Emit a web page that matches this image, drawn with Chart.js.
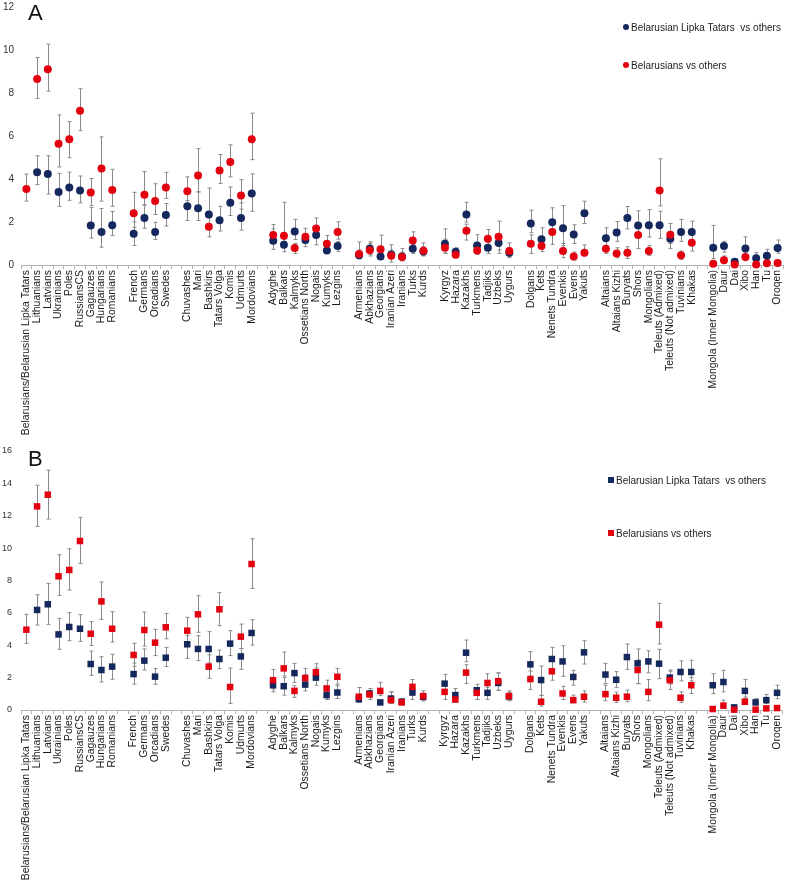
<!DOCTYPE html>
<html>
<head>
<meta charset="utf-8">
<script src="https://cdn.jsdelivr.net/npm/chart.js@4.4.1/dist/chart.umd.min.js"></script>
<style>
  body { margin: 0; background: #fff; font-family: "Liberation Sans", Arial, sans-serif; }
  #wrap { position: relative; width: 787px; height: 884px; }
  canvas { position: absolute; left: 0; }
  .panel { position: absolute; font-size: 22px; color: #111; line-height: 24px; }
  .leg { position: absolute; font-size: 10px; color: #222; white-space: pre; line-height: 12px; }
  .mk { display: inline-block; width: 6px; height: 6px; margin-right: 2px; vertical-align: 1px; }
</style>
</head>
<body>
<div id="wrap">
  <canvas id="chartA" width="787" height="440" style="top:0"></canvas>
  <canvas id="chartB" width="787" height="444" style="top:440px"></canvas>
  <div class="panel" style="left:28px;top:1px">A</div>
  <div class="panel" style="left:28px;top:447px">B</div>
  <div class="leg" style="left:623px;top:22px"><span class="mk" style="background:#15285e;border-radius:50%"></span>Belarusian Lipka Tatars  vs others</div>
  <div class="leg" style="left:623px;top:60px"><span class="mk" style="background:#e3000f;border-radius:50%"></span>Belarusians vs others</div>
  <div class="leg" style="left:608px;top:475px"><span class="mk" style="background:#15285e"></span>Belarusian Lipka Tatars  vs others</div>
  <div class="leg" style="left:608px;top:528px"><span class="mk" style="background:#e3000f"></span>Belarusians vs others</div>
</div>
<script>
// populations, "" = gap between regional groups
const populations = [
  "Belarusians/Belarusian Lipka Tatars", "Lithuanians", "Latvians", "Ukrainians", "Poles", "RussiansCS", "Gagauzes", "Hungarians", "Romanians", "",
  "French", "Germans", "Orcadians", "Swedes", "",
  "Chuvashes", "Mari", "Bashkirs", "Tatars Volga", "Komis", "Udmurts", "Mordovians", "",
  "Adyghe", "Balkars", "Kalmyks", "Ossetians North", "Nogais", "Kumyks", "Lezgins", "",
  "Armenians", "Abkhazians", "Georgians", "Iranian Azeri", "Iranians", "Turks", "Kurds", "",
  "Kyrgyz", "Hazara", "Kazakhs", "Turkmens", "Tadjiks", "Uzbeks", "Uygurs", "",
  "Dolgans", "Kets", "Nenets Tundra", "Evenkis", "Evens", "Yakuts", "",
  "Altaians", "Altaians Kizhi", "Buryats", "Shors", "Mongolians", "Teleuts (Admixed)", "Teleuts (Not admixed)", "Tuvinians", "Khakas", "",
  "Mongola (Inner Mongolia)", "Daur", "Dai", "Xibo", "Han", "Tu", "Oroqen"
];

// panel A
const tatarsA = [null, 4.31, 4.23, 3.40, 3.61, 3.47, 1.84, 1.53, 1.85, null,
  1.45, 2.19, 1.54, 2.33, null,
  2.73, 2.64, 2.35, 2.08, 2.89, 2.19, 3.32, null,
  1.13, 0.94, 1.56, 1.16, 1.39, 0.68, 0.88, null,
  0.45, 0.77, 0.39, 0.49, 0.39, 0.76, 0.63, null,
  0.99, 0.62, 2.35, 0.91, 0.80, 1.02, 0.57, null,
  1.93, 1.20, 1.99, 1.71, 1.42, 2.41, null,
  1.25, 1.51, 2.19, 1.84, 1.85, 1.85, 1.22, 1.54, 1.54, null,
  0.80, 0.88, 0.15, 0.77, 0.31, 0.43, 0.79];
const tatarsAHi = [null, 5.08, 5.08, 4.26, 4.32, 4.14, 2.67, 2.63, 2.49, null,
  2.0, 2.78, 1.99, 2.86, null,
  3.35, 3.4, 3.58, 2.73, 3.63, 2.89, 4.24, null,
  1.68, 1.2, 2.12, 1.4, 1.75, 0.9, 1.1, null,
  0.7, 1.08, 0.6, 0.7, 0.6, 0.95, 0.85, null,
  1.68, 0.8, 2.92, 1.41, 1.05, 1.3, 0.8, null,
  2.55, 1.73, 2.66, 2.76, 1.87, 2.97, null,
  1.73, 2.02, 2.72, 2.52, 2.58, 2.5, 1.55, 2.12, 2.04, null,
  1.84, 1.1, 0.3, 1.31, 0.57, 0.73, 1.16];
const tatarsALo = [null, 3.74, 3.3, 2.73, 3.01, 2.89, 1.25, 0.83, 1.37, null,
  0.91, 1.71, 1.19, 1.81, null,
  2.07, 2.07, 1.9, 1.58, 2.3, 1.62, 2.5, null,
  0.73, 0.62, 1.19, 0.85, 0.94, 0.54, 0.62, null,
  0.29, 0.5, 0.26, 0.3, 0.25, 0.53, 0.45, null,
  0.54, 0.45, 2.0, 0.54, 0.53, 0.7, 0.4, null,
  1.5, 0.85, 1.5, 0.9, 1.0, 1.93, null,
  0.9, 1.1, 1.68, 1.3, 1.3, 1.24, 0.76, 1.1, 1.1, null,
  0.3, 0.6, 0.05, 0.45, 0.15, 0.25, 0.55];
const belarusA = [3.54, 8.65, 9.11, 5.64, 5.85, 7.17, 3.37, 4.49, 3.49, null,
  2.41, 3.27, 2.98, 3.61, null,
  3.43, 4.16, 1.78, 4.40, 4.79, 3.23, 5.85, null,
  1.39, 1.36, 0.79, 1.31, 1.70, 0.99, 1.54, null,
  0.51, 0.69, 0.73, 0.43, 0.37, 1.14, 0.66, null,
  0.80, 0.48, 1.59, 0.68, 1.22, 1.31, 0.65, null,
  0.99, 0.88, 1.54, 0.65, 0.39, 0.57, null,
  0.76, 0.54, 0.57, 1.39, 0.65, 3.47, 1.41, 0.45, 1.03, null,
  0.06, 0.22, 0.02, 0.37, 0.02, 0.08, 0.09];
const belarusAHi = [4.23, 9.65, 10.27, 6.98, 6.67, 8.2, 4.02, 5.96, 4.45, null,
  3.38, 4.34, 3.78, 4.31, null,
  4.1, 5.41, 2.2, 5.14, 5.59, 3.97, 7.06, null,
  1.88, 2.92, 1.0, 1.71, 2.19, 1.37, 2.01, null,
  1.07, 1.0, 1.39, 0.94, 0.77, 1.54, 1.03, null,
  1.2, 0.7, 1.9, 0.95, 1.65, 2.04, 1.03, null,
  1.4, 1.2, 2.0, 1.0, 0.6, 0.93, null,
  1.1, 0.8, 0.85, 1.9, 0.9, 4.94, 1.93, 0.65, 1.4, null,
  0.15, 0.42, 0.08, 0.6, 0.08, 0.2, 0.2];
const belarusALo = [2.97, 7.75, 8.09, 4.56, 4.99, 6.25, 2.76, 2.97, 2.73, null,
  1.75, 2.8, 2.35, 3.1, null,
  3.0, 3.4, 1.31, 3.79, 4.1, 2.6, 4.9, null,
  1.1, 1.1, 0.53, 1.0, 1.5, 0.75, 1.2, null,
  0.3, 0.42, 0.4, 0.14, 0.19, 0.9, 0.42, null,
  0.55, 0.34, 1.16, 0.5, 0.9, 0.54, 0.34, null,
  0.54, 0.62, 0.96, 0.34, 0.23, 0.42, null,
  0.54, 0.34, 0.3, 0.77, 0.45, 2.75, 1.0, 0.26, 0.65, null,
  0.0, 0.1, 0.0, 0.2, 0.0, 0.0, 0.0];

// panel B
const tatarsB = [null, 6.18, 6.53, 4.67, 5.13, 5.02, 2.84, 2.47, 2.68, null,
  2.22, 3.05, 2.06, 3.23, null,
  4.06, 3.77, 3.77, 3.15, 4.10, 3.31, 4.76, null,
  1.53, 1.47, 2.28, 1.57, 2.0, 0.92, 1.08, null,
  0.67, 1.02, 0.47, 0.71, 0.51, 1.08, 0.82, null,
  1.63, 0.92, 3.54, 1.22, 1.06, 1.67, 0.84, null,
  2.82, 1.85, 3.15, 3.0, 2.04, 3.56, null,
  2.19, 1.87, 3.27, 2.88, 3.0, 2.86, 2.0, 2.35, 2.35, null,
  1.53, 1.73, 0.16, 1.18, 0.47, 0.61, 1.06];
const tatarsBHi = [null, 7.12, 7.82, 5.66, 6.01, 5.89, 3.64, 3.29, 3.44, null,
  2.9, 3.77, 2.57, 3.87, null,
  4.6, 4.59, 4.84, 3.7, 4.9, 3.8, 5.58, null,
  2.0, 2.0, 2.88, 2.2, 2.6, 1.1, 1.5, null,
  0.9, 1.2, 0.6, 1.12, 0.71, 1.3, 1.0, null,
  2.2, 1.33, 4.32, 1.59, 1.4, 2.29, 1.1, null,
  3.6, 2.72, 3.87, 3.97, 2.45, 4.28, null,
  2.88, 2.37, 4.08, 3.77, 3.66, 3.75, 2.4, 3.03, 3.07, null,
  2.24, 2.45, 0.3, 1.88, 0.71, 0.96, 1.53];
const tatarsBLo = [null, 5.25, 5.29, 3.75, 4.28, 4.24, 2.14, 1.73, 1.9, null,
  1.6, 2.47, 1.59, 2.68, null,
  3.19, 3.05, 2.9, 2.55, 3.36, 2.51, 4.01, null,
  1.12, 0.92, 1.7, 1.18, 1.53, 0.65, 0.71, null,
  0.47, 0.8, 0.35, 0.41, 0.33, 0.65, 0.57, null,
  1.2, 0.47, 2.98, 0.65, 0.65, 1.22, 0.6, null,
  2.1, 0.9, 2.5, 2.08, 1.53, 2.84, null,
  1.63, 1.4, 2.51, 1.63, 2.3, 1.94, 1.6, 1.8, 1.8, null,
  1.02, 1.12, 0.05, 0.7, 0.3, 0.4, 0.7];
const belarusB = [4.96, 12.58, 13.3, 8.26, 8.65, 10.44, 4.71, 6.71, 5.02, null,
  3.40, 4.94, 4.16, 5.11, null,
  4.90, 5.91, 2.68, 6.22, 1.42, 4.53, 9.02, null,
  1.84, 2.57, 1.18, 1.97, 2.33, 1.33, 2.05, null,
  0.82, 0.96, 1.18, 0.61, 0.47, 1.43, 0.86, null,
  1.12, 0.65, 2.31, 1.06, 1.67, 1.78, 0.86, null,
  1.91, 0.51, 2.39, 1.02, 0.61, 0.82, null,
  0.98, 0.76, 0.82, 2.47, 1.12, 5.27, 1.84, 0.76, 1.53, null,
  0.06, 0.27, 0.02, 0.51, 0.02, 0.1, 0.12];
const belarusBHi = [5.91, 13.88, 14.82, 9.59, 9.96, 11.9, 5.46, 7.91, 6.07, null,
  4.12, 6.05, 4.98, 5.97, null,
  5.72, 7.06, 3.4, 7.25, 2.59, 5.31, 10.58, null,
  2.51, 3.58, 1.5, 2.57, 2.86, 1.84, 2.57, null,
  1.39, 1.33, 1.71, 1.12, 0.71, 1.88, 1.18, null,
  1.5, 0.9, 2.8, 1.3, 2.24, 2.29, 1.18, null,
  2.4, 0.9, 3.0, 1.47, 0.92, 1.18, null,
  1.53, 1.1, 1.22, 3.1, 1.88, 6.59, 2.47, 1.12, 2.0, null,
  0.15, 0.61, 0.08, 0.8, 0.08, 0.2, 0.25];
const belarusBLo = [4.12, 11.34, 11.8, 7.08, 7.41, 9.06, 3.99, 5.6, 4.2, null,
  2.7, 3.95, 3.36, 4.4, null,
  4.0, 4.8, 1.96, 5.21, 0.41, 3.8, 7.51, null,
  1.3, 2.1, 0.78, 1.5, 1.9, 0.65, 1.6, null,
  0.5, 0.65, 0.9, 0.41, 0.33, 0.9, 0.57, null,
  0.65, 0.47, 1.63, 0.65, 1.1, 1.22, 0.57, null,
  1.27, 0.24, 1.84, 0.65, 0.45, 0.49, null,
  0.57, 0.47, 0.51, 1.63, 0.57, 4.08, 1.27, 0.47, 1.02, null,
  0.0, 0.1, 0.0, 0.35, 0.0, 0.0, 0.0];

const BLUE = "#15285e";
const RED = "#e3000f";

// draws the whiskers under the points, positions come from the y scale
const errorBars = {
  id: "errorBars",
  beforeDatasetsDraw(chart) {
    const ctx = chart.ctx;
    const yScale = chart.scales.y;
    ctx.save();
    ctx.strokeStyle = "#8a8a8a";
    ctx.lineWidth = 1;
    chart.data.datasets.forEach((ds, di) => {
      const meta = chart.getDatasetMeta(di);
      meta.data.forEach((pt, i) => {
        if (ds.data[i] == null || ds.errHi[i] == null) return;
        const x = Math.round(pt.x) + 0.5;
        const top = yScale.getPixelForValue(ds.errHi[i]);
        const bot = yScale.getPixelForValue(ds.errLo[i]);
        ctx.beginPath();
        ctx.moveTo(x, top);
        ctx.lineTo(x, bot);
        ctx.moveTo(x - 2, top);
        ctx.lineTo(x + 2, top);
        ctx.moveTo(x - 2, bot);
        ctx.lineTo(x + 2, bot);
        ctx.stroke();
      });
    });
    ctx.restore();
  }
};

function makeChart(id, blue, blueHi, blueLo, red, redHi, redLo, opts) {
  const series = (label, data, hi, lo, color, order) => ({
    label, data, errHi: hi, errLo: lo, order,
    showLine: false,
    pointStyle: opts.marker,
    pointRadius: opts.radius,
    pointBackgroundColor: color,
    pointBorderColor: color,
    pointBorderWidth: 0,
    clip: false
  });
  return new Chart(document.getElementById(id), {
    type: "line",
    data: {
      labels: populations,
      datasets: [
        series("Belarusian Lipka Tatars  vs others", blue, blueHi, blueLo, BLUE, 1),
        series("Belarusians vs others", red, redHi, redLo, RED, 0)
      ]
    },
    options: {
      responsive: false,
      devicePixelRatio: 1,
      animation: false,
      events: [],
      layout: { padding: { top: opts.top, right: 2, left: 0, bottom: 0 } },
      plugins: { legend: { display: false }, tooltip: { enabled: false } },
      scales: {
        x: {
          offset: true,
          afterFit: s => { s.height = opts.xHeight; s.paddingLeft = 0; s.paddingRight = 0; },
          grid: { offset: true, drawOnChartArea: false, tickLength: 4, color: "#b5b5b5" },
          border: { color: "#b5b5b5" },
          ticks: {
            autoSkip: false, minRotation: 90, maxRotation: 90, padding: 1,
            color: "#1a1a1a",
            font: { family: "'Liberation Sans', Arial, sans-serif", size: 10.4 }
          }
        },
        y: {
          min: 0, max: opts.max,
          afterFit: s => { s.width = 21; s.paddingTop = 0; s.paddingBottom = 0; },
          grid: { display: false, drawTicks: false },
          border: { display: false },
          ticks: {
            stepSize: 2, padding: opts.yPad, color: "#333",
            font: { family: "'Liberation Sans', Arial, sans-serif", size: opts.yFont }
          }
        }
      }
    },
    plugins: [errorBars]
  });
}

makeChart("chartA", tatarsA, tatarsAHi, tatarsALo, belarusA, belarusAHi, belarusALo,
  { marker: "circle", radius: 4, max: 12, top: 7, xHeight: 175, yPad: 7, yFont: 10 });
makeChart("chartB", tatarsB, tatarsBHi, tatarsBLo, belarusB, belarusBHi, belarusBLo,
  { marker: "rect", radius: 4.6, max: 16, top: 11, xHeight: 174, yPad: 9, yFont: 9 });
</script>
</body>
</html>
